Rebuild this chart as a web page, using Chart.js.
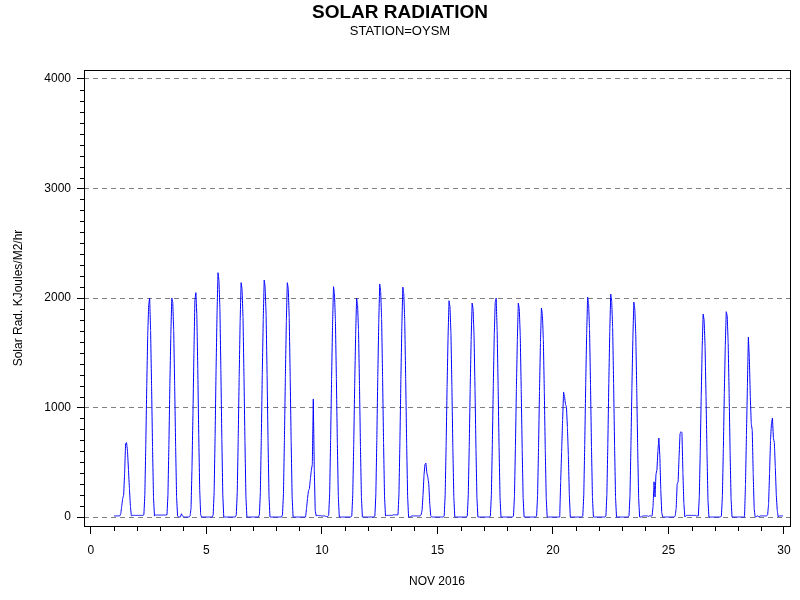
<!DOCTYPE html>
<html>
<head>
<meta charset="utf-8">
<script src="https://cdn.jsdelivr.net/npm/chart.js@4.4.1/dist/chart.umd.min.js"></script>
<style>
  html, body { margin: 0; padding: 0; background: #fff; }
</style>
</head>
<body>
<canvas id="solarChart" width="800" height="600"></canvas>
<script>
// Hourly solar radiation, Nov 1..29 2016, one row per day (hours 0..23)
const firstDay = 1;
const hourly = [
  [10,10,10,10,10,10,10,30,100,170,200,400,670,680,600,430,260,100,10,15,15,15,15,15],
  [15,15,15,15,15,15,15,20,200,660,1200,1660,1940,2000,1700,1200,640,180,10,18,18,18,18,18],
  [18,18,18,18,18,18,18,20,200,660,1200,1660,2000,1960,1700,1200,640,180,10,0,0,0,30,10],
  [5,0,0,0,0,0,0,10,80,450,950,1500,1980,2049,1850,1350,750,250,20,0,0,0,0,0],
  [0,0,0,0,0,0,0,20,230,740,1340,1850,2231,2160,1900,1340,710,200,0,0,0,0,0,0],
  [0,0,0,0,0,0,0,20,220,710,1280,1780,2140,2080,1820,1280,690,190,0,0,0,0,0,0],
  [0,0,0,0,0,0,0,20,220,720,1300,1800,2164,2100,1840,1300,690,190,0,0,0,0,0,0],
  [0,0,0,0,0,0,0,20,210,700,1280,1780,2140,2090,1820,1280,690,190,0,0,0,0,0,0],
  [0,0,0,0,0,0,0,0,80,170,240,260,350,430,480,1078,450,60,10,15,15,10,15,10],
  [10,10,10,10,5,5,5,15,210,700,1260,1750,2103,2040,1790,1260,670,190,0,0,0,0,0,0],
  [0,0,0,0,0,0,0,10,200,660,1200,1660,2000,1940,1700,1200,640,180,0,0,0,0,0,0],
  [0,0,0,0,0,0,0,10,210,700,1280,1770,2128,2060,1810,1280,680,190,10,15,15,15,15,15],
  [15,15,20,20,20,20,20,20,210,690,1260,1740,2100,2040,1790,1260,670,190,0,0,0,10,10,10],
  [10,10,10,10,10,10,10,20,60,200,380,480,493,400,365,300,120,10,0,0,0,0,0,0],
  [0,0,0,0,0,0,0,10,200,650,1190,1640,1975,1920,1680,1190,630,180,0,0,0,0,0,0],
  [0,0,0,0,0,0,0,10,200,640,1170,1620,1954,1900,1660,1170,625,175,0,0,0,0,0,0],
  [0,0,0,0,0,0,0,10,200,660,1200,1660,1960,2000,1700,1200,640,180,0,0,0,0,0,0],
  [0,0,0,0,0,0,0,10,195,645,1170,1620,1954,1900,1660,1170,625,175,0,0,0,0,0,0],
  [0,0,0,0,0,0,0,10,190,630,1150,1590,1909,1850,1620,1145,610,170,0,0,0,0,0,0],
  [0,0,0,0,0,0,0,0,322,600,880,1142,1100,1030,1007,820,560,200,0,0,0,0,0,0],
  [0,0,0,0,0,0,0,10,200,660,1210,1670,2009,1950,1710,1210,640,180,0,0,0,0,0,0],
  [0,0,0,0,0,0,0,10,205,670,1220,1690,2036,1970,1730,1220,650,180,0,0,0,0,0,0],
  [0,0,0,0,0,0,0,10,195,650,1180,1630,1963,1900,1670,1180,630,175,0,0,0,10,10,10],
  [10,10,10,5,10,10,10,10,100,322,183,390,430,600,721,560,250,40,0,0,0,0,0,0],
  [0,0,0,0,0,0,0,10,80,300,320,550,760,779,770,400,120,0,10,15,15,15,15,15],
  [15,15,15,15,15,10,10,10,180,600,1100,1540,1854,1800,1560,1100,590,160,0,0,0,0,0,0],
  [0,0,0,0,0,0,0,10,190,620,1130,1560,1875,1840,1590,1130,600,170,0,0,0,0,0,0],
  [0,0,0,0,0,0,0,0,300,750,1200,1644,1450,1100,850,795,400,80,0,0,10,10,0,10],
  [10,10,10,10,10,10,10,20,120,400,700,860,904,720,679,450,200,60,0,10,10,10,10,10]
];
const xTickLabels = [0, 5, 10, 15, 20, 25, 30];
const yTickLabels = [0, 1000, 2000, 3000, 4000];

const points = [];
hourly.forEach((row, d) => {
  row.forEach((v, h) => points.push({ x: firstDay + d + h / 24, y: v }));
});

const FONT = 'Liberation Sans, Arial, sans-serif';

// frame around the plot + small minor ticks
const frameAndMinorTicks = {
  id: 'frameAndMinorTicks',
  afterDraw(chart) {
    const { ctx, chartArea: a, scales } = chart;
    ctx.save();
    ctx.strokeStyle = '#000';
    ctx.lineWidth = 1;
    ctx.setLineDash([]);
    ctx.beginPath();
    for (let v = 0; v <= 30; v++) {
      if (xTickLabels.includes(v)) continue;
      const px = Math.round(scales.x.getPixelForValue(v)) + 0.5;
      ctx.moveTo(px, a.bottom);
      ctx.lineTo(px, a.bottom + 5);
    }
    for (let v = 0; v <= 4000; v += 100) {
      if (yTickLabels.includes(v)) continue;
      const py = Math.round(scales.y.getPixelForValue(v)) + 0.5;
      ctx.moveTo(a.left - 4, py);
      ctx.lineTo(a.left, py);
    }
    ctx.stroke();
    ctx.strokeRect(a.left + 0.5, a.top + 0.5, a.right - a.left, a.bottom - a.top);
    ctx.restore();
  }
};

new Chart(document.getElementById('solarChart'), {
  type: 'line',
  data: {
    datasets: [{
      data: points,
      borderColor: '#0000ff',
      borderWidth: 1,
      pointRadius: 0,
      tension: 0.0001,
      fill: false
    }]
  },
  options: {
    responsive: false,
    animation: false,
    devicePixelRatio: 1,
    layout: { padding: { left: 10, right: 10, top: 0, bottom: 0 } },
    plugins: {
      legend: { display: false },
      tooltip: { enabled: false },
      title: {
        display: true,
        text: 'SOLAR RADIATION',
        color: '#000',
        font: { family: FONT, size: 19, weight: 'bold' },
        padding: { top: 1, bottom: 0 }
      },
      subtitle: {
        display: true,
        text: 'STATION=OYSM',
        color: '#000',
        font: { family: FONT, size: 13 },
        padding: { top: 0, bottom: 30.6 }
      }
    },
    scales: {
      x: {
        type: 'linear',
        min: -0.3,
        max: 30.26,
        afterFit: s => { s.height = 74; },
        afterBuildTicks: s => { s.ticks = xTickLabels.map(v => ({ value: v })); },
        ticks: {
          autoSkip: false,
          maxRotation: 0,
          color: '#000',
          padding: 9,
          font: { family: FONT, size: 12 },
          callback: v => String(v)
        },
        grid: {
          drawOnChartArea: false,
          drawTicks: true,
          tickLength: 8,
          tickColor: '#000'
        },
        border: { display: false },
        title: {
          display: true,
          text: 'NOV 2016',
          color: '#000',
          font: { family: FONT, size: 12 },
          padding: { top: 0, bottom: 11 }
        }
      },
      y: {
        type: 'linear',
        min: -82,
        max: 4082,
        afterFit: s => { s.width = 74; },
        afterBuildTicks: s => { s.ticks = yTickLabels.map(v => ({ value: v })); },
        ticks: {
          autoSkip: false,
          color: '#000',
          padding: 6,
          font: { family: FONT, size: 12 },
          callback: v => String(v)
        },
        grid: {
          color: '#808080',
          lineWidth: 1,
          drawTicks: true,
          tickLength: 7,
          tickColor: '#000'
        },
        border: { display: false, dash: [5, 4] },
        title: {
          display: true,
          text: 'Solar Rad. KJoules/M2/hr',
          color: '#000',
          font: { family: FONT, size: 12 },
          padding: { top: 1, bottom: 0 }
        }
      }
    }
  },
  plugins: [frameAndMinorTicks]
});
</script>
</body>
</html>
